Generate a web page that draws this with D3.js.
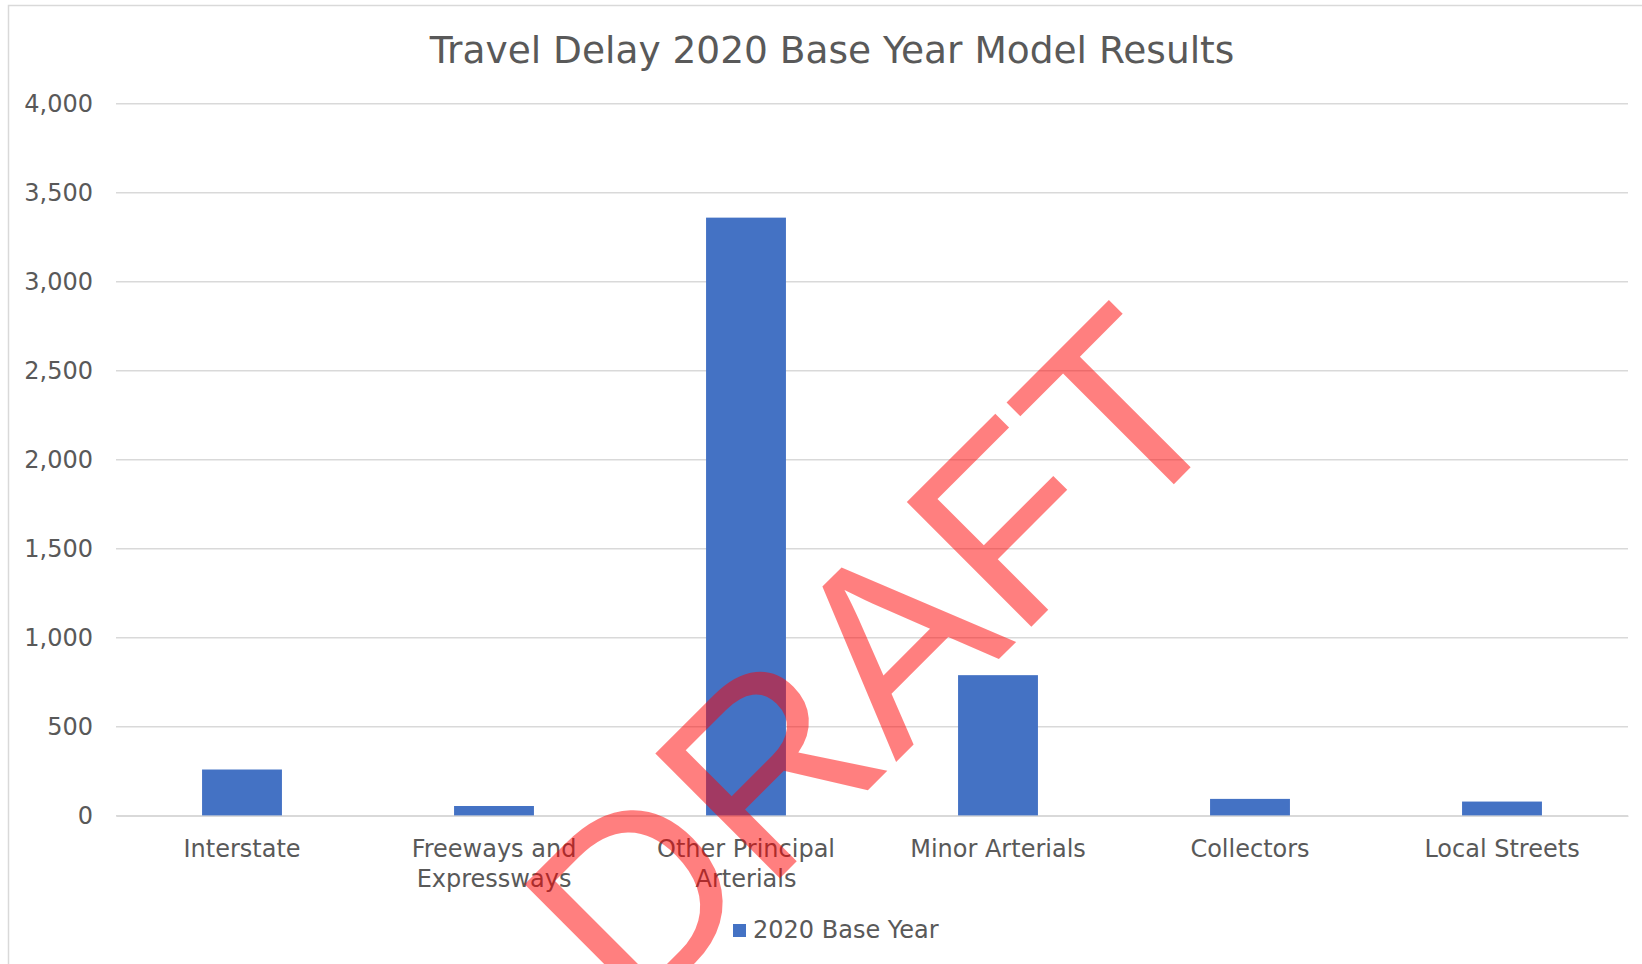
<!DOCTYPE html>
<html>
<head>
<meta charset="utf-8">
<script src="https://cdn.jsdelivr.net/npm/d3@7"></script>
<style>
  html, body { margin: 0; padding: 0; background: #fff; overflow: hidden; }
  svg { display: block; font-family: "DejaVu Sans", Verdana, sans-serif; }
</style>
</head>
<body>
<div id="chart"></div>
<script>
const categories = ["Interstate", "Freeways and Expressways", "Other Principal Arterials",
  "Minor Arterials", "Collectors", "Local Streets"];
const delayValues = [260, 55, 3360, 790, 95, 80];
const yTicks = [0, 500, 1000, 1500, 2000, 2500, 3000, 3500, 4000];
const seriesName = "2020 Base Year";
const chartTitle = "Travel Delay 2020 Base Year Model Results";
const watermark = "DRAFT";

const W = 1642, H = 964;
const plot = { left: 116, right: 1628, top: 103.7, bottom: 815.8 };
const textColor = "#595959";
const gridColor = "#d9d9d9";

const svg = d3.select("#chart").append("svg")
  .attr("width", W)
  .attr("height", H);

// chart border
svg.append("rect")
  .attr("x", 8.5).attr("y", 5.5)
  .attr("width", 1700).attr("height", 1100)
  .attr("fill", "#fff")
  .attr("stroke", gridColor)
  .attr("stroke-width", 1.5);

// title
svg.append("text")
  .attr("x", 832)
  .attr("y", 63)
  .attr("text-anchor", "middle")
  .attr("font-size", 37.5)
  .attr("fill", textColor)
  .text(chartTitle);

/* ---- scales ---- */
const x = d3.scaleBand()
  .domain(categories)
  .range([plot.left, plot.right])
  .paddingInner(0.683)
  .paddingOuter(0.683 / 2);

const y = d3.scaleLinear()
  .domain([0, 4000])
  .range([plot.bottom, plot.top]);

/* ---- gridlines ---- */
svg.append("g")
  .selectAll("line")
  .data(yTicks)
  .join("line")
  .attr("x1", plot.left)
  .attr("x2", plot.right)
  .attr("y1", d => y(d))
  .attr("y2", d => y(d))
  .attr("stroke", gridColor)
  .attr("stroke-width", 1.5);

/* ---- y axis ---- */
const yAxis = svg.append("g")
  .attr("transform", `translate(${plot.left},0)`)
  .call(d3.axisLeft(y).tickValues(yTicks).tickSize(0).tickPadding(23).tickFormat(d3.format(",")));
yAxis.select(".domain").remove();
yAxis.selectAll("text")
  .attr("font-size", 24)
  .attr("font-family", "DejaVu Sans, Verdana, sans-serif")
  .attr("fill", textColor);

/* ---- bars ---- */
svg.append("g")
  .selectAll("rect")
  .data(categories.map((c, i) => ({ c, v: delayValues[i] })))
  .join("rect")
  .attr("x", d => x(d.c))
  .attr("y", d => y(d.v))
  .attr("width", x.bandwidth())
  .attr("height", d => y(0) - y(d.v))
  .attr("fill", "#4472C4");

/* ---- x axis ---- */
const xAxis = svg.append("g")
  .attr("transform", `translate(0,${plot.bottom})`)
  .call(d3.axisBottom(x).tickSize(0).tickPadding(23.8));
xAxis.select(".domain")
  .attr("stroke", gridColor)
  .attr("stroke-width", 1.5);
xAxis.selectAll("text")
  .attr("font-size", 24)
  .attr("font-family", "DejaVu Sans, Verdana, sans-serif")
  .attr("fill", textColor)
  .call(wrap, 236);

function wrap(texts, width) {
  texts.each(function () {
    const text = d3.select(this);
    const words = text.text().split(/\s+/);
    const yy = text.attr("y");
    const dy = parseFloat(text.attr("dy"));
    text.text(null);
    let line = [];
    let lineNo = 0;
    let tspan = text.append("tspan").attr("x", 0).attr("y", yy).attr("dy", dy + "em");
    words.forEach(w => {
      line.push(w);
      tspan.text(line.join(" "));
      if (tspan.node().getComputedTextLength() > width && line.length > 1) {
        line.pop();
        tspan.text(line.join(" "));
        line = [w];
        lineNo++;
        tspan = text.append("tspan").attr("x", 0).attr("y", yy)
          .attr("dy", (dy + lineNo * 1.25) + "em").text(w);
      }
    });
  });
}

/* ---- legend ---- */
const legend = svg.append("g").attr("transform", "translate(733,924)");
legend.append("rect")
  .attr("width", 13).attr("height", 13)
  .attr("fill", "#4472C4");
legend.append("text")
  .attr("x", 20).attr("y", 14)
  .attr("font-size", 24)
  .attr("fill", textColor)
  .text(seriesName);

/* ---- watermark ---- */
svg.append("text")
  .attr("transform", "translate(936,722) rotate(-45)")
  .attr("text-anchor", "middle")
  .attr("font-family", "Liberation Sans, Arial, sans-serif")
  .attr("font-size", 256)
  .attr("fill", "rgba(255,0,0,0.5)")
  .text(watermark);
</script>
</body>
</html>
